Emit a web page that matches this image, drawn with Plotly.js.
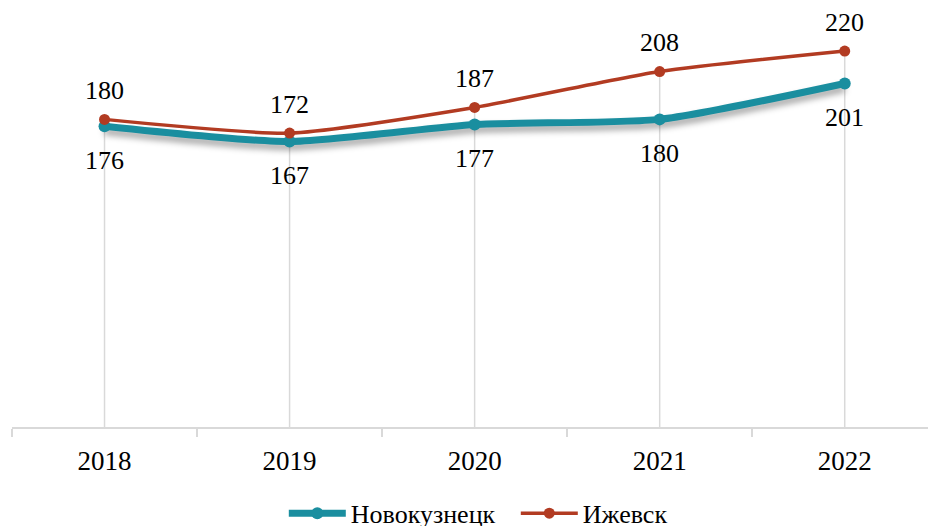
<!DOCTYPE html>
<html>
<head>
<meta charset="utf-8">
<script src="https://cdn.plot.ly/plotly-3.0.1.min.js"></script>
<style>
html,body{margin:0;padding:0;background:#fff;overflow:hidden;}
#chart{width:928px;height:546px;}
</style>
</head>
<body>
<div id="chart"></div>
<script>
const years = ['2018', '2019', '2020', '2021', '2022'];
const novokuznetsk = [176, 167, 177, 180, 201];
const izhevsk = [180, 172, 187, 208, 220];
const seriesNames = ['Новокузнецк', 'Ижевск'];

const FONT = 'Liberation Serif';
const TEAL = '#1A8E9F';
const RED = '#B23B22';

// drop lines from the higher point to the axis
const dropX = [], dropY = [];
years.forEach((y, i) => {
  dropX.push(y, y, null);
  dropY.push(Math.max(novokuznetsk[i], izhevsk[i]), 0, null);
});

const traces = [
  {x: dropX, y: dropY, mode: 'lines', line: {color: '#d9d9d9', width: 1.5},
   showlegend: false, hoverinfo: 'skip'},
  {x: years, y: novokuznetsk, name: seriesNames[0], mode: 'lines+markers',
   line: {color: TEAL, width: 7, shape: 'spline', smoothing: 0.6},
   marker: {color: TEAL, size: 12}},
  {x: years, y: izhevsk, name: seriesNames[1], mode: 'lines+markers',
   line: {color: RED, width: 3.5, shape: 'spline', smoothing: 0.6},
   marker: {color: RED, size: 11}}
];

const annotations = [];
years.forEach((y, i) => {
  annotations.push({x: i, y: izhevsk[i], xref: 'x', yref: 'y', text: String(izhevsk[i]), showarrow: false,
    yshift: 29, font: {family: FONT, size: 26, color: '#000'}});
  annotations.push({x: i, y: novokuznetsk[i], xref: 'x', yref: 'y', text: String(novokuznetsk[i]), showarrow: false,
    yshift: -34, font: {family: FONT, size: 26, color: '#000'}});
});

const layout = {
  width: 928, height: 546,
  margin: {l: 12, r: 0, t: 10, b: 119},
  paper_bgcolor: '#fff', plot_bgcolor: '#fff',
  font: {family: FONT, size: 26, color: '#000'},
  showlegend: true,
  legend: {orientation: 'h', x: 0.55, xanchor: 'center', y: -0.207, yanchor: 'middle',
    font: {family: FONT, size: 26, color: '#000'}, itemwidth: 57, entrywidth: 160},
  xaxis: {type: 'category', range: [-0.5, 4.45], showgrid: false, zeroline: false,
    showline: true, linecolor: '#d9d9d9', linewidth: 1.5,
    ticks: 'outside', tickson: 'boundaries', ticklen: 8, tickcolor: '#d9d9d9', tickwidth: 1.5,
    ticklabelstandoff: 9,
    tickfont: {family: FONT, size: 27, color: '#000'}, fixedrange: true},
  yaxis: {visible: false, range: [0, 244], fixedrange: true},
  annotations: annotations
};

Plotly.newPlot('chart', traces, layout, {displayModeBar: false, staticPlot: true}).then(() => {
  const tr = document.querySelectorAll('.scatterlayer .trace');
  if (tr[1]) {
    tr[1].querySelectorAll('path.js-line').forEach(p => {
      p.style.filter = 'drop-shadow(0px 5px 3px rgba(0,0,0,0.35))';
    });
  }
});
</script>
</body>
</html>
